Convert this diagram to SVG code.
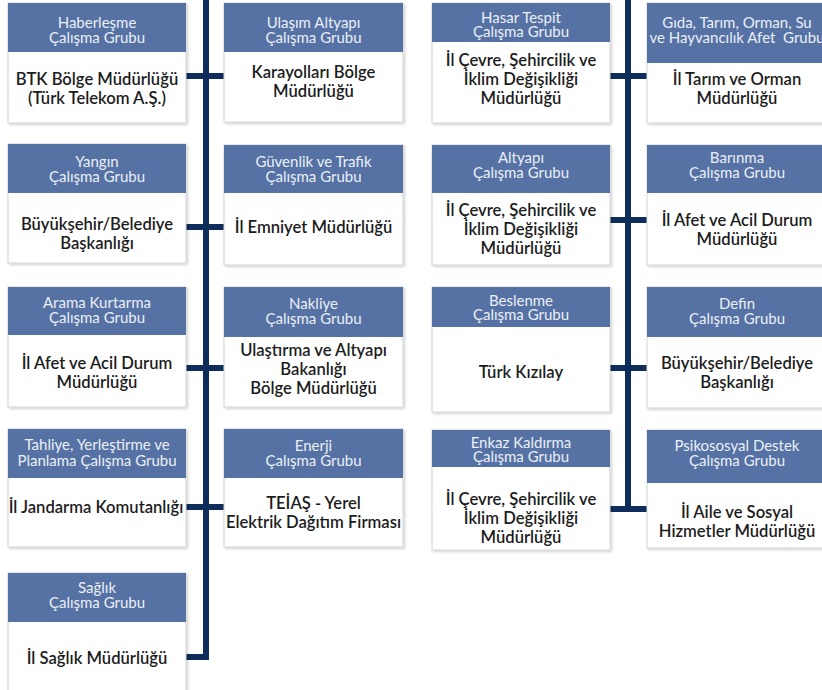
<svg xmlns="http://www.w3.org/2000/svg" width="822" height="690" viewBox="0 0 822 690">
<defs>
<filter id="sh" x="-5%" y="-5%" width="115%" height="115%">
<feDropShadow dx="1.5" dy="1.5" stdDeviation="1.2" flood-color="#000" flood-opacity="0.18"/>
</filter>
</defs>
<style>
.box{fill:#ffffff;stroke:#d4d4d4;stroke-width:1;filter:url(#sh)}
.hd{fill:#5672a4}
.ht{font-family:Lato,"Open Sans","DejaVu Sans",sans-serif;font-size:15px;fill:#eaeff7;text-anchor:middle}
.bt{font-family:Lato,"Open Sans","DejaVu Sans",sans-serif;font-size:16.6px;font-weight:600;fill:#1c1c1c;text-anchor:middle}
.cn{fill:none;stroke:#0f2d5a;stroke-width:6;stroke-linejoin:miter;stroke-linecap:butt}
</style>
<rect width="822" height="690" fill="#ffffff"/>

<g id="connectors">
<path class="cn" d="M206,0 V660"/>
<path class="cn" d="M209,657 H186"/>
<path class="cn" d="M186,76 H224"/>
<path class="cn" d="M186,227 H224"/>
<path class="cn" d="M186,368 H224"/>
<path class="cn" d="M186,507 H224"/>
<path class="cn" d="M628,0 V512"/>
<path class="cn" d="M610,76 H647"/>
<path class="cn" d="M610,220 H647"/>
<path class="cn" d="M610,368 H647"/>
<path class="cn" d="M610,509 H647"/>
</g>

<!-- Row 1 -->
<g id="haberlesme">
<rect class="box" x="8" y="3" width="178" height="120"/>
<rect class="hd" x="8" y="3" width="178" height="49"/>
<text class="ht" x="97" y="28">Haberleşme</text>
<text class="ht" x="97" y="43">Çalışma Grubu</text>
<text class="bt" x="97" y="85">BTK Bölge Müdürlüğü</text>
<text class="bt" x="97" y="104">(Türk Telekom A.Ş.)</text>
</g>
<g id="ulasim">
<rect class="box" x="224" y="3" width="179" height="119"/>
<rect class="hd" x="224" y="3" width="179" height="49"/>
<text class="ht" x="313.5" y="28">Ulaşım Altyapı</text>
<text class="ht" x="313.5" y="43">Çalışma Grubu</text>
<text class="bt" x="313.5" y="78">Karayolları Bölge</text>
<text class="bt" x="313.5" y="97">Müdürlüğü</text>
</g>
<g id="hasar">
<rect class="box" x="432" y="3" width="178" height="120"/>
<rect class="hd" x="432" y="3" width="178" height="39"/>
<text class="ht" x="521" y="23">Hasar Tespit</text>
<text class="ht" x="521" y="37">Çalışma Grubu</text>
<text class="bt" x="521" y="66">İl Çevre, Şehircilik ve</text>
<text class="bt" x="521" y="85">İklim Değişikliği</text>
<text class="bt" x="521" y="104">Müdürlüğü</text>
</g>
<g id="gida">
<rect class="box" x="647" y="3" width="180" height="120"/>
<rect class="hd" x="647" y="3" width="180" height="60"/>
<text class="ht" x="737" y="28">Gıda, Tarım, Orman, Su</text>
<text class="ht" x="737" y="43" style="white-space:pre">ve Hayvancılık Afet  Grubu</text>
<text class="bt" x="737" y="85">İl Tarım ve Orman</text>
<text class="bt" x="737" y="104">Müdürlüğü</text>
</g>

<!-- Row 2 -->
<g id="yangin">
<rect class="box" x="8" y="144" width="178" height="119"/>
<rect class="hd" x="8" y="144" width="178" height="49"/>
<text class="ht" x="97" y="167">Yangın</text>
<text class="ht" x="97" y="182">Çalışma Grubu</text>
<text class="bt" x="97" y="230">Büyükşehir/Belediye</text>
<text class="bt" x="97" y="249">Başkanlığı</text>
</g>
<g id="guvenlik">
<rect class="box" x="224" y="145" width="179" height="120"/>
<rect class="hd" x="224" y="145" width="179" height="48"/>
<text class="ht" x="313.5" y="167">Güvenlik ve Trafik</text>
<text class="ht" x="313.5" y="182">Çalışma Grubu</text>
<text class="bt" x="313.5" y="233">İl Emniyet Müdürlüğü</text>
</g>
<g id="altyapi">
<rect class="box" x="432" y="145" width="178" height="120"/>
<rect class="hd" x="432" y="145" width="178" height="48"/>
<text class="ht" x="521" y="163">Altyapı</text>
<text class="ht" x="521" y="178">Çalışma Grubu</text>
<text class="bt" x="521" y="216">İl Çevre, Şehircilik ve</text>
<text class="bt" x="521" y="235">İklim Değişikliği</text>
<text class="bt" x="521" y="254">Müdürlüğü</text>
</g>
<g id="barinma">
<rect class="box" x="647" y="145" width="180" height="120"/>
<rect class="hd" x="647" y="145" width="180" height="48"/>
<text class="ht" x="737" y="163">Barınma</text>
<text class="ht" x="737" y="178">Çalışma Grubu</text>
<text class="bt" x="737" y="226">İl Afet ve Acil Durum</text>
<text class="bt" x="737" y="245">Müdürlüğü</text>
</g>

<!-- Row 3 -->
<g id="arama">
<rect class="box" x="8" y="287" width="178" height="120"/>
<rect class="hd" x="8" y="287" width="178" height="48"/>
<text class="ht" x="97" y="308">Arama Kurtarma</text>
<text class="ht" x="97" y="323">Çalışma Grubu</text>
<text class="bt" x="97" y="369">İl Afet ve Acil Durum</text>
<text class="bt" x="97" y="388">Müdürlüğü</text>
</g>
<g id="nakliye">
<rect class="box" x="224" y="287" width="179" height="120"/>
<rect class="hd" x="224" y="287" width="179" height="50"/>
<text class="ht" x="313.5" y="309">Nakliye</text>
<text class="ht" x="313.5" y="324">Çalışma Grubu</text>
<text class="bt" x="313.5" y="356">Ulaştırma ve Altyapı</text>
<text class="bt" x="313.5" y="375">Bakanlığı</text>
<text class="bt" x="313.5" y="394">Bölge Müdürlüğü</text>
</g>
<g id="beslenme">
<rect class="box" x="432" y="287" width="178" height="125"/>
<rect class="hd" x="432" y="287" width="178" height="40"/>
<text class="ht" x="521" y="306">Beslenme</text>
<text class="ht" x="521" y="320">Çalışma Grubu</text>
<text class="bt" x="521" y="378">Türk Kızılay</text>
</g>
<g id="defin">
<rect class="box" x="647" y="287" width="180" height="121"/>
<rect class="hd" x="647" y="287" width="180" height="50"/>
<text class="ht" x="737" y="309">Defin</text>
<text class="ht" x="737" y="324">Çalışma Grubu</text>
<text class="bt" x="737" y="369">Büyükşehir/Belediye</text>
<text class="bt" x="737" y="388">Başkanlığı</text>
</g>

<!-- Row 4 -->
<g id="tahliye">
<rect class="box" x="8" y="429" width="178" height="118"/>
<rect class="hd" x="8" y="429" width="178" height="49"/>
<text class="ht" x="97" y="450">Tahliye, Yerleştirme ve</text>
<text class="ht" x="97" y="466">Planlama Çalışma Grubu</text>
<text class="bt" x="96" y="513">İl Jandarma Komutanlığı</text>
</g>
<g id="enerji">
<rect class="box" x="224" y="429" width="179" height="118"/>
<rect class="hd" x="224" y="429" width="179" height="49"/>
<text class="ht" x="313.5" y="451">Enerji</text>
<text class="ht" x="313.5" y="466">Çalışma Grubu</text>
<text class="bt" x="313.5" y="509">TEİAŞ - Yerel</text>
<text class="bt" x="313.5" y="528">Elektrik Dağıtım Firması</text>
</g>
<g id="enkaz">
<rect class="box" x="432" y="430" width="178" height="120"/>
<rect class="hd" x="432" y="430" width="178" height="37"/>
<text class="ht" x="521" y="448">Enkaz Kaldırma</text>
<text class="ht" x="521" y="462">Çalışma Grubu</text>
<text class="bt" x="521" y="505">İl Çevre, Şehircilik ve</text>
<text class="bt" x="521" y="524">İklim Değişikliği</text>
<text class="bt" x="521" y="543">Müdürlüğü</text>
</g>
<g id="psikososyal">
<rect class="box" x="647" y="430" width="180" height="118"/>
<rect class="hd" x="647" y="430" width="180" height="53"/>
<text class="ht" x="737" y="451">Psikososyal Destek</text>
<text class="ht" x="737" y="466">Çalışma Grubu</text>
<text class="bt" x="737" y="518">İl Aile ve Sosyal</text>
<text class="bt" x="737" y="537">Hizmetler Müdürlüğü</text>
</g>

<!-- Row 5 -->
<g id="saglik">
<rect class="box" x="8" y="573" width="178" height="125"/>
<rect class="hd" x="8" y="573" width="178" height="49"/>
<text class="ht" x="97" y="593">Sağlık</text>
<text class="ht" x="97" y="608">Çalışma Grubu</text>
<text class="bt" x="97" y="664">İl Sağlık Müdürlüğü</text>
</g>
</svg>
